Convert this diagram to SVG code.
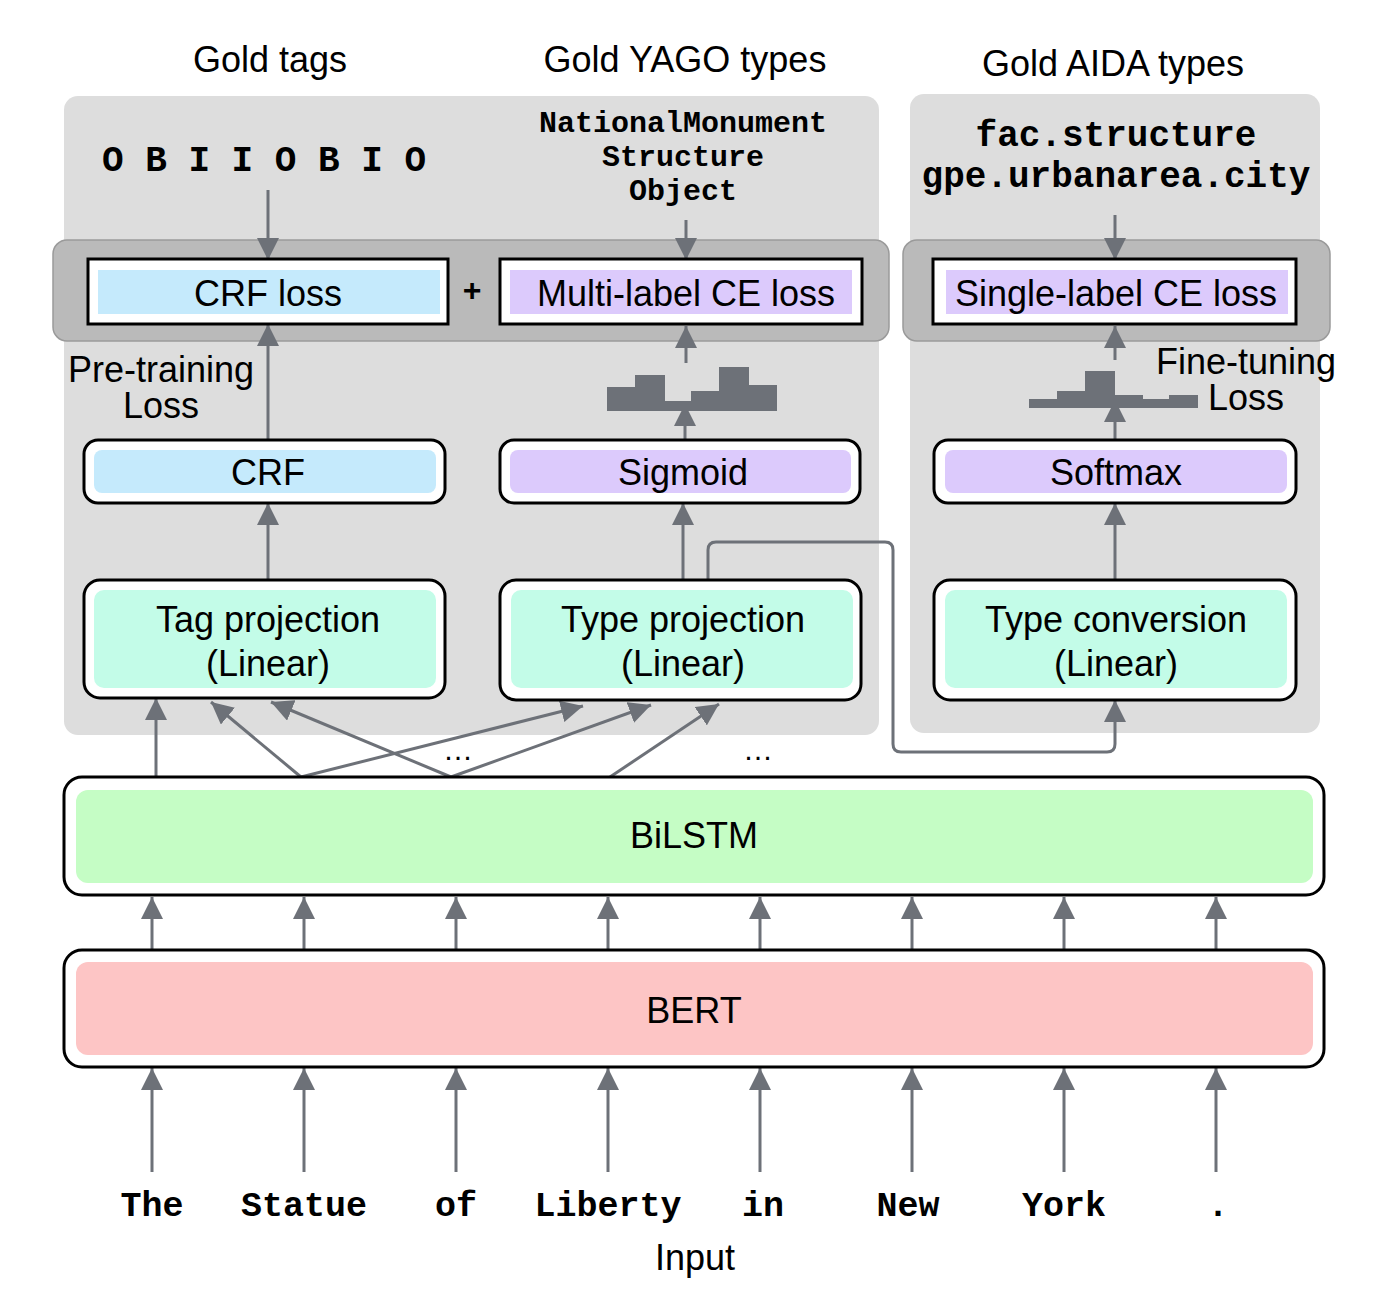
<svg xmlns="http://www.w3.org/2000/svg" width="1380" height="1304" viewBox="0 0 1380 1304">
<defs>
<marker id="ah" markerUnits="userSpaceOnUse" markerWidth="22" markerHeight="22" refX="22" refY="11" orient="auto" viewBox="0 0 22 22">
<path d="M0,0 L22,11 L0,22 z" fill="#6d7178"/>
</marker>
</defs>
<style>
.sans{font-family:"Liberation Sans",Arial,sans-serif;fill:#000}
.mono{font-family:"Liberation Mono","Courier New",monospace;font-weight:bold;fill:#000}
.t35{font-size:36px}
.panel{fill:#dddddd}
.bar{fill:#bababa;stroke:#9a9a9a;stroke-width:1.5}
.box{fill:#fff;stroke:#000;stroke-width:3}
.blue{fill:#c5eafc}
.purple{fill:#dccafc}
.mint{fill:#c3fce8}
.green{fill:#c5fdc5}
.red{fill:#fdc5c5}
.c{stroke:#6d7178;stroke-width:3;fill:none;marker-end:url(#ah)}
.hist{fill:#6d7178}
</style>
<rect width="1380" height="1304" fill="#fff"/>

<g id="panels">
<rect class="panel" x="64" y="96" width="815" height="639" rx="14"/>
<rect class="panel" x="910" y="94" width="410" height="639" rx="14"/>
<rect class="bar" x="53" y="240" width="836" height="101" rx="14"/>
<rect class="bar" x="903" y="240" width="427" height="101" rx="14"/>
</g>

<g id="titles" class="sans t35" text-anchor="middle">
<text x="270" y="72">Gold tags</text>
<text x="685" y="72">Gold YAGO types</text>
<text x="1113" y="76">Gold AIDA types</text>
</g>

<g id="gold-tags">
<text class="mono" x="264" y="171" font-size="36" text-anchor="middle">O B I I O B I O</text>
</g>
<g id="gold-yago" class="mono" font-size="30" text-anchor="middle">
<text x="683" y="132">NationalMonument</text>
<text x="683" y="166">Structure</text>
<text x="683" y="200">Object</text>
</g>
<g id="gold-aida" class="mono" font-size="36" text-anchor="middle">
<text x="1116" y="146">fac.structure</text>
<text x="1116" y="187">gpe.urbanarea.city</text>
</g>

<g id="connectors">
<line class="c" x1="268" y1="190" x2="268" y2="260"/>
<line class="c" x1="686" y1="220" x2="686" y2="260"/>
<line class="c" x1="1115" y1="215" x2="1115" y2="260"/>
<line class="c" x1="268" y1="440" x2="268" y2="324"/>
<line class="c" x1="686" y1="363" x2="686" y2="326"/>
<line class="c" x1="685" y1="440" x2="685" y2="404"/>
<line class="c" x1="1115" y1="360" x2="1115" y2="326"/>
<line class="c" x1="1115" y1="440" x2="1115" y2="400"/>
<line class="c" x1="268" y1="580" x2="268" y2="503"/>
<line class="c" x1="683" y1="580" x2="683" y2="503"/>
<line class="c" x1="1115" y1="580" x2="1115" y2="503"/>
<path class="c" d="M708,580 V550 Q708,542 716,542 H885 Q893,542 893,550 V744 Q893,752 901,752 H1107 Q1115,752 1115,744 V700"/>
<line class="c" x1="156" y1="777" x2="156" y2="698"/>
<line class="c" x1="301" y1="777" x2="211" y2="702"/>
<line class="c" x1="451" y1="777" x2="271" y2="702"/>
<line class="c" x1="301" y1="777" x2="583" y2="706"/>
<line class="c" x1="451" y1="777" x2="651" y2="705"/>
<line class="c" x1="610" y1="777" x2="719" y2="704"/>
<line class="c" x1="152" y1="950" x2="152" y2="897"/>
<line class="c" x1="304" y1="950" x2="304" y2="897"/>
<line class="c" x1="456" y1="950" x2="456" y2="897"/>
<line class="c" x1="608" y1="950" x2="608" y2="897"/>
<line class="c" x1="760" y1="950" x2="760" y2="897"/>
<line class="c" x1="912" y1="950" x2="912" y2="897"/>
<line class="c" x1="1064" y1="950" x2="1064" y2="897"/>
<line class="c" x1="1216" y1="950" x2="1216" y2="897"/>
<line class="c" x1="152" y1="1172" x2="152" y2="1068"/>
<line class="c" x1="304" y1="1172" x2="304" y2="1068"/>
<line class="c" x1="456" y1="1172" x2="456" y2="1068"/>
<line class="c" x1="608" y1="1172" x2="608" y2="1068"/>
<line class="c" x1="760" y1="1172" x2="760" y2="1068"/>
<line class="c" x1="912" y1="1172" x2="912" y2="1068"/>
<line class="c" x1="1064" y1="1172" x2="1064" y2="1068"/>
<line class="c" x1="1216" y1="1172" x2="1216" y2="1068"/>
</g>

<g id="crf-loss">
<rect class="box" x="88" y="259" width="360" height="65"/>
<rect class="blue" x="98" y="270" width="342" height="44"/>
<text class="sans t35" x="268" y="306" text-anchor="middle">CRF loss</text>
</g>
<g id="plus"><text class="sans" x="472" y="301" font-size="32" font-weight="bold" text-anchor="middle">+</text></g>
<g id="multi-loss">
<rect class="box" x="500" y="259" width="362" height="65"/>
<rect class="purple" x="510" y="270" width="342" height="44"/>
<text class="sans t35" x="686" y="306" text-anchor="middle">Multi-label CE loss</text>
</g>
<g id="single-loss">
<rect class="box" x="933" y="259" width="363" height="65"/>
<rect class="purple" x="946" y="270" width="342" height="44"/>
<text class="sans t35" x="1116" y="306" text-anchor="middle">Single-label CE loss</text>
</g>

<g id="pretrain-label" class="sans t35" text-anchor="middle">
<text x="161" y="382">Pre-training</text>
<text x="161" y="418">Loss</text>
</g>
<g id="finetune-label" class="sans t35" text-anchor="middle">
<text x="1246" y="374">Fine-tuning</text>
<text x="1246" y="410">Loss</text>
</g>

<g id="hist-multi">
<path class="hist" d="M607,411 V387 H635 V375 H665 V401 H691 V391 H719 V367 H749 V385 H777 V411 Z"/>
</g>
<g id="hist-single">
<path class="hist" d="M1029,408 V399 H1057 V391 H1085 V371 H1115 V395 H1143 V399 H1169 V395 H1198 V408 Z"/>
</g>

<g id="crf">
<rect class="box" x="84" y="440" width="361" height="63" rx="14"/>
<rect class="blue" x="94" y="450" width="342" height="43" rx="8"/>
<text class="sans t35" x="268" y="485" text-anchor="middle">CRF</text>
</g>
<g id="sigmoid">
<rect class="box" x="500" y="440" width="360" height="63" rx="14"/>
<rect class="purple" x="510" y="450" width="341" height="43" rx="8"/>
<text class="sans t35" x="683" y="485" text-anchor="middle">Sigmoid</text>
</g>
<g id="softmax">
<rect class="box" x="934" y="440" width="362" height="63" rx="14"/>
<rect class="purple" x="945" y="450" width="342" height="43" rx="8"/>
<text class="sans t35" x="1116" y="485" text-anchor="middle">Softmax</text>
</g>

<g id="tag-proj">
<rect class="box" x="84" y="580" width="361" height="118" rx="16"/>
<rect class="mint" x="94" y="590" width="342" height="98" rx="10"/>
<text class="sans t35" x="268" y="632" text-anchor="middle">Tag projection</text>
<text class="sans t35" x="268" y="676" text-anchor="middle">(Linear)</text>
</g>
<g id="type-proj">
<rect class="box" x="500" y="580" width="361" height="120" rx="16"/>
<rect class="mint" x="511" y="590" width="342" height="98" rx="10"/>
<text class="sans t35" x="683" y="632" text-anchor="middle">Type projection</text>
<text class="sans t35" x="683" y="676" text-anchor="middle">(Linear)</text>
</g>
<g id="type-conv">
<rect class="box" x="934" y="580" width="362" height="120" rx="16"/>
<rect class="mint" x="945" y="590" width="342" height="98" rx="10"/>
<text class="sans t35" x="1116" y="632" text-anchor="middle">Type conversion</text>
<text class="sans t35" x="1116" y="676" text-anchor="middle">(Linear)</text>
</g>

<g id="dots" class="sans" font-size="30" text-anchor="middle">
<text x="458" y="760">…</text>
<text x="758" y="760">…</text>
</g>

<g id="bilstm">
<rect class="box" x="64" y="777" width="1260" height="118" rx="18"/>
<rect class="green" x="76" y="790" width="1237" height="93" rx="12"/>
<text class="sans t35" x="694" y="848" text-anchor="middle">BiLSTM</text>
</g>
<g id="bert">
<rect class="box" x="64" y="950" width="1260" height="117" rx="18"/>
<rect class="red" x="76" y="962" width="1237" height="93" rx="12"/>
<text class="sans t35" x="694" y="1023" text-anchor="middle">BERT</text>
</g>

<g id="words" class="mono" font-size="35" text-anchor="middle">
<text x="152" y="1216">The</text>
<text x="304" y="1216">Statue</text>
<text x="456" y="1216">of</text>
<text x="608" y="1216">Liberty</text>
<text x="763" y="1216">in</text>
<text x="908" y="1216">New</text>
<text x="1064" y="1216">York</text>
<text x="1218" y="1216">.</text>
</g>
<g id="input-label"><text class="sans t35" x="695" y="1270" text-anchor="middle">Input</text></g>
</svg>
